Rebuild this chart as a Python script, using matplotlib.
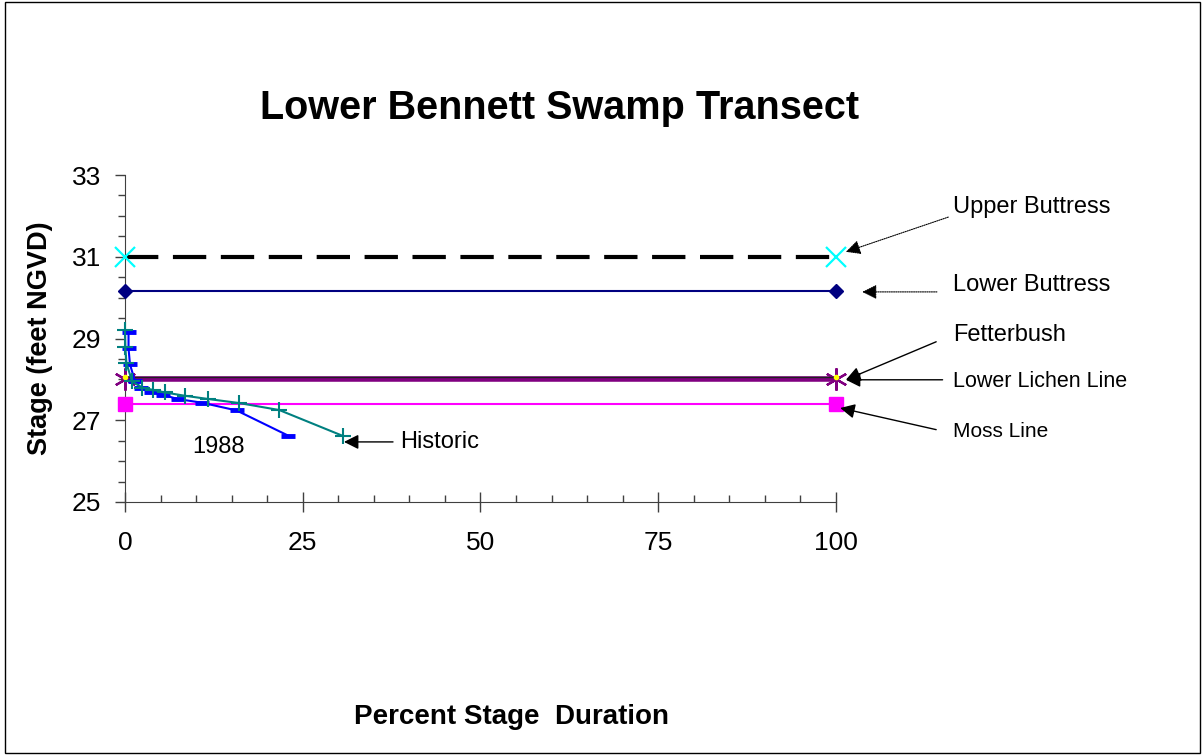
#!/usr/bin/env python3

import numpy as np
import matplotlib
matplotlib.use("Agg")
import matplotlib.pyplot as plt
from matplotlib.patches import Rectangle
from matplotlib.ticker import MultipleLocator

plt.rcParams['font.family'] = ['Liberation Sans', 'DejaVu Sans']

# -------------------------------------------------
# DATA
# -------------------------------------------------

# stage duration curves (percent of time, stage in feet NGVD)
x_1988 = [0.5, 0.5, 0.7, 1.4, 2.3, 3.6, 5.4, 7.4, 10.8, 15.7, 23.0]
y_1988 = [29.15, 28.76, 28.37, 27.96, 27.78, 27.70, 27.62, 27.52, 27.43, 27.24, 26.62]

x_hist = [0.0, 0.05, 0.2, 1.0, 2.4, 4.0, 5.6, 8.4, 11.7, 16.1, 21.7, 30.6]
y_hist = [29.2, 28.78, 28.4, 27.95, 27.8, 27.74, 27.68, 27.6, 27.52, 27.42, 27.25, 26.62]

# vegetation indicator elevations, drawn across 0..100 %
x_ends = [0, 100]
upper_buttress = 31.0
lower_buttress = 30.15
fetterbush = 28.05
lower_lichen = 28.0
moss_line = 27.4

x_ticks = [0, 25, 50, 75, 100]
y_ticks = [25, 27, 29, 31, 33]


# -------------------------------------------------
# FIGURE
# -------------------------------------------------

fig = plt.figure(figsize=(12.04, 7.55), dpi=100)
ax = fig.add_axes([0.1038, 0.3351, 0.5905, 0.4331])

# horizontal indicator lines
ax.plot(x_ends, [upper_buttress] * 2, color='black', lw=3, dashes=(8, 3.5),
        marker='x', ms=14, mec='#00FFFF', mew=1.6, clip_on=False, zorder=3)
ax.plot(x_ends, [lower_buttress] * 2, color='#000080', lw=1.5,
        marker='D', ms=7, mfc='#000080', mec='#000080', clip_on=False, zorder=3)
ax.plot(x_ends, [lower_lichen] * 2, color='#800080', lw=4,
        marker=(6, 2, 0), ms=16, mec='#800080', mew=1.6, clip_on=False, zorder=3)
ax.plot(x_ends, [fetterbush] * 2, color='#202020', lw=1,
        marker='o', ms=3, mfc='#FFFF00', mec='#FFFF00', clip_on=False, zorder=4)
ax.plot(x_ends, [moss_line] * 2, color='#FF00FF', lw=1.5,
        marker='s', ms=10, mfc='#FF00FF', mec='#FF00FF', clip_on=False, zorder=3)

# duration curves
ax.plot(x_1988, y_1988, color='#0000FF', lw=1.5, marker='_', ms=10, mew=3.5,
        clip_on=False, zorder=5)
ax.plot(x_hist, y_hist, color='#008080', lw=1.5, marker='+', ms=11, mew=1.5,
        clip_on=False, zorder=5)

# axes styling
ax.set_xlim(0, 100)
ax.set_ylim(25, 33)
ax.set_xticks(x_ticks)
ax.set_yticks(y_ticks)
ax.xaxis.set_minor_locator(MultipleLocator(5))
ax.yaxis.set_minor_locator(MultipleLocator(0.5))
ax.spines['top'].set_visible(False)
ax.spines['right'].set_visible(False)
ax.spines['left'].set_color('#404040')
ax.spines['bottom'].set_color('#404040')
ax.tick_params(axis='x', which='major', direction='inout', length=14, width=1,
               pad=14, labelsize=19, color='#404040')
ax.tick_params(axis='x', which='minor', direction='in', length=5, width=1,
               color='#404040')
ax.tick_params(axis='y', which='major', direction='out', length=7, width=1,
               pad=10, labelsize=19, color='#404040')
ax.tick_params(axis='y', which='minor', direction='out', length=5, width=1,
               color='#404040')

ax.set_ylabel("Stage (feet NGVD)", fontsize=19.5, fontweight='bold')
ax.yaxis.set_label_coords(-0.101, 0.5)

fig.text(0.4645, 0.857, "Lower Bennett Swamp Transect", ha='center', va='center',
         fontsize=28.5, fontweight='bold')
fig.text(0.425, 0.050, "Percent Stage  Duration", ha='center', va='center',
         fontsize=20, fontweight='bold')

# -------------------------------------------------
# ANNOTATIONS
# -------------------------------------------------

solid = dict(arrowstyle='-|>', color='black', lw=1, mutation_scale=22,
             shrinkA=0, shrinkB=0)
dotted = dict(arrowstyle='-|>', color='black', lw=0.8, ls=(0, (1, 1)),
              mutation_scale=22, shrinkA=0, shrinkB=0)

ax.annotate("", xy=(101.4, 31.12), xytext=(115.8, 31.97),
            arrowprops=dotted, annotation_clip=False)
ax.annotate("", xy=(103.7, 30.14), xytext=(114.2, 30.14),
            arrowprops=dotted, annotation_clip=False)
ax.annotate("", xy=(101.4, 27.99), xytext=(114.1, 28.92),
            arrowprops=solid, annotation_clip=False)
ax.annotate("", xy=(101.4, 27.99), xytext=(115.0, 27.99),
            arrowprops=solid, annotation_clip=False)
ax.annotate("", xy=(100.6, 27.3), xytext=(114.1, 26.77),
            arrowprops=solid, annotation_clip=False)
ax.annotate("", xy=(30.8, 26.47), xytext=(37.7, 26.47),
            arrowprops=solid, annotation_clip=False)

ax.text(116.5, 32.22, "Upper Buttress", fontsize=17, va='center', clip_on=False)
ax.text(116.5, 30.31, "Lower Buttress", fontsize=17, va='center', clip_on=False)
ax.text(116.5, 29.09, "Fetterbush", fontsize=17, va='center', clip_on=False)
ax.text(116.5, 27.96, "Lower Lichen Line", fontsize=15.5, va='center', clip_on=False)
ax.text(116.5, 26.72, "Moss Line", fontsize=15, va='center', clip_on=False)
ax.text(38.7, 26.47, "Historic", fontsize=17, va='center', clip_on=False)
ax.text(13.1, 26.35, "1988", fontsize=17, ha='center', va='center', clip_on=False)

# frame around the whole chart
fig.add_artist(Rectangle((0.004, 0.002), 0.993, 0.996, transform=fig.transFigure,
                         fill=False, edgecolor='black', lw=1))

fig.savefig("out.png", dpi=100)
